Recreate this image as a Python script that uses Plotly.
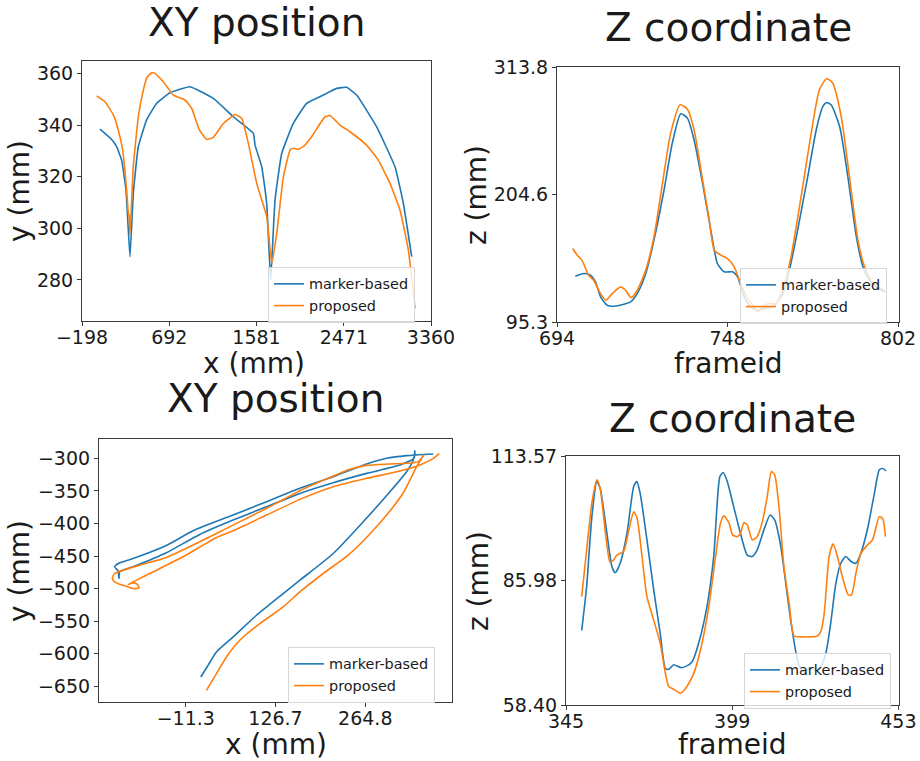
import plotly.graph_objects as go

W, H = 920, 761
BLUE = "#1f77b4"
ORANGE = "#ff7f0e"
FONT = "DejaVu Sans"

# ---------------- data: top-left XY position ----------------
tl_marker_x = [-14.5, 104.5, 155, 206, 250.6, 291, 325, 376, 461, 563, 699, 903, 1141, 1345, 1549,
               1566, 1634, 1685, 1725, 1770, 1838, 1956, 2092, 2262, 2398, 2500, 2602, 2806, 2993, 3078, 3163]
tl_marker_y = [338.4, 334.4, 331.6, 326.4, 314.8, 289, 313.5, 331.6, 342, 348.4, 352.5, 354.8, 350.3, 343.2, 336.8,
               332.2, 323.9, 309.7, 280, 311, 329, 340.6, 348.4, 351.6, 354.2, 354.6, 351.6, 339.3, 323.8, 309.7, 289]
tl_prop_x = [-48.5, 36.5, 121.5, 172.5, 216.6, 257, 274.5, 282, 291, 325, 376, 427, 468, 512, 546, 631, 733, 852,
             920, 995, 1073, 1141, 1243, 1362, 1430, 1498, 1583, 1685, 1736, 1787, 1855, 1923, 1956, 2007, 2058,
             2143, 2279, 2330, 2432, 2534, 2704, 2823, 2942, 3044, 3129, 3197]
tl_prop_y = [351.3, 349, 343.9, 338, 330.3, 314.8, 305.8, 305, 297.4, 323.9, 343.2, 353.5, 358.7, 360.2, 360, 356.8,
             351.6, 349.7, 346.5, 338.4, 334.4, 335.2, 340.6, 344.1, 342.6, 332.9, 317.4, 304.5, 286.4, 298, 320,
             330.3, 331, 330.6, 331.6, 335.5, 343.2, 343.7, 340, 337.4, 332.2, 326.4, 317.4, 307.1, 291.6, 269]
tl_xticks = [-198, 692, 1581, 2471, 3360]
tl_xticktext = ["\u2212198", "692", "1581", "2471", "3360"]
tl_yticks = [280, 300, 320, 340, 360]

# ---------------- data: top-right Z coordinate ----------------
tr_marker_f = [699.8, 702.5, 704.6, 706.2, 707.8, 709.9, 712, 715.2, 717.3, 719.4, 722.1, 724.7, 727.9, 730.5,
               733.2, 735.3, 737.4, 740.1, 742.7, 744.8, 746.9, 749.6, 751.2, 753.3, 755.4, 757.5, 759.6, 762.8,
               765.5, 767.6, 770.2, 773.4, 776.1, 778.2, 779.4, 780.8, 783.5, 786.1, 788.8, 790.9, 793, 795.1, 797.8]
tr_marker_z = [134.5, 136.8, 135.4, 129.7, 116.8, 109.6, 108.8, 110.5, 112.5, 119.6, 136.8, 165.5, 208.4, 248.5,
               273.7, 270, 251.4, 214.1, 174.1, 145.4, 138.3, 138.3, 133.9, 116.8, 108.2, 105.3, 106.7, 109.6,
               119.6, 139.7, 174.1, 219.9, 260, 280, 283.4, 281.4, 262.8, 219.9, 168.3, 142.6, 131.1, 125.4, 121]
tr_prop_f = [699, 700.4, 701.9, 704, 705.6, 707.8, 709.4, 711.5, 714.1, 715.7, 717.5, 719.4, 722.1, 724.7, 727.4,
             730, 733, 735.3, 737.4, 740.1, 742.2, 743.8, 745.9, 748, 750.1, 752.2, 754.4, 756.5, 757.5, 759.1,
             760.7, 763.4, 765.5, 768.1, 771.3, 774.5, 777.1, 779.4, 781.3, 784, 786.6, 789.3, 791.4, 793.5,
             795.6, 797.8]
tr_prop_z = [158.3, 152.6, 148.3, 135.4, 131.1, 119.6, 113.9, 119.6, 125.4, 122.5, 116.2, 122.5, 139.7, 168.3,
             214.1, 257.1, 281.4, 277.7, 260, 217, 182.6, 156.9, 152.6, 149.7, 142.6, 128.2, 115.3, 108.2, 103.9,
             108.2, 111, 111, 123.9, 151.1, 202.7, 257.1, 294.3, 303.8, 300.1, 271.4, 219.9, 165.5, 142.6, 131.1,
             125.4, 122.5]
tr_xticks = [694, 748, 802]
tr_yticks = [95.3, 204.6, 313.8]
tr_yticktext = ["95.3", "204.6", "313.8"]

# ---------------- data: bottom-left XY position ----------------
bl_marker_x = [11.8, 23.1, 35.9, 61.5, 97.5, 138.5, 164.2, 215.5, 261.6, 302.7, 328.3, 338.6, 341.1, 339.6,
               318.1, 266.8, 215.5, 164.2, 112.9, 61.5, 10.2, -41.1, -92.4, -112.9, -113.9, -115.4, -120.6,
               -112.9, -92.4, -41.1, 0.0, 61.5, 112.9, 164.2, 215.5, 266.8, 297.5, 328.3, 369.4]
bl_marker_y = [-635.7, -617.7, -597.2, -574.2, -540.9, -507.6, -487.1, -446.1, -397.4, -351.2, -320.5, -302.6,
               -288.2, -300, -310.2, -323.1, -337.4, -353.8, -374.3, -394.8, -416.8, -445.0, -466.6, -474.2,
               -484.5, -472.7, -466.6, -460.4, -453.8, -433.8, -411.2, -387.1, -366.6, -346.1, -328.2, -308.7,
               -300, -295.9, -293.3]
bl_prop_x = [20.5, 35.9, 51.3, 71.8, 102.6, 138.5, 164.2, 200.1, 238.5, 266.8, 287.3, 307.8, 323.2, 336.0,
             343.7, 351.4, 355.0, 346.3, 338.6, 266.8, 241.1, 215.5, 164.2, 112.9, 61.5, 10.2, -41.1, -82.1,
             -120.6, -124.2, -120.6, -112.9, -102.6, -92.4, -83.1, -86.2, -93.4, -100.0, -66.7, -15.4, 35.9,
             61.5, 112.9, 164.2, 215.5, 266.8, 318.1, 348.8, 369.4, 378.6]
bl_prop_y = [-656.2, -630.6, -604.9, -579.3, -553.7, -528.1, -505.0, -476.8, -448.6, -421.5, -398.9, -374.3,
             -352.8, -328.2, -312.8, -300.0, -294.9, -305.1, -306.7, -310.8, -316.9, -327.2, -349.7, -376.9,
             -402.5, -428.1, -452.2, -464.0, -476.8, -484.5, -489.6, -493.2, -496.3, -499.9, -498.9, -493.2,
             -491.2, -493.7, -476.8, -451.2, -421.5, -411.2, -387.1, -363.0, -343.6, -330.8, -319.5, -310.2,
             -300.0, -292.3]
bl_xticks = [-11.3, 126.7, 264.8]
bl_xticktext = ["\u221211.3", "126.7", "264.8"]
bl_yticks = [-650, -600, -550, -500, -450, -400, -350, -300]
bl_yticktext = ["\u2212650", "\u2212600", "\u2212550", "\u2212500", "\u2212450", "\u2212400", "\u2212350", "\u2212300"]

# ---------------- data: bottom-right Z coordinate ----------------
br_marker_f = [350.1, 351.7, 353.4, 355, 356.1, 358.3, 359.9, 361, 362.6, 364.8, 367, 368, 369.1, 371.3, 373.5,
               375.6, 377.3, 378.4, 380, 382.2, 383.8, 386, 388.1, 390.8, 393, 395, 396.1, 397.4, 399.5, 401.7,
               403.9, 405.5, 407.1, 409.3, 411.3, 412.8, 414.8, 416.4, 418, 420.2, 421.8, 424.5, 427.2, 429.4,
               431, 432.7, 434.3, 435.9, 437.6, 439.2, 440.8, 443, 445.2, 446.8, 447.9, 449]
br_marker_z = [74.9, 84.6, 100.1, 107.9, 106.4, 96.4, 89.1, 87.7, 89.8, 96.4, 106.8, 107.9, 105.3, 95, 83.9,
               74.3, 66.5, 66.3, 67.3, 66.7, 66.9, 68, 72.1, 80.2, 91.3, 109, 109.9, 107.9, 102.3, 96.4, 91.6,
               91.3, 92.7, 97.2, 100.5, 99.4, 93.5, 85.4, 77.2, 68.4, 65.8, 66.5, 66.3, 69.8, 76.5, 85.4, 89.8,
               91.3, 90.2, 89.8, 92, 97.5, 105.3, 110.5, 110.8, 110.3]
br_prop_f = [350.1, 351.7, 353.4, 355, 356.1, 357.7, 359.3, 360.4, 361.5, 363.7, 365.3, 367, 368.1, 369.7,
             371.3, 373.5, 375.6, 377.3, 378.4, 380, 382.2, 384.3, 386.5, 388.7, 391.4, 393.6, 395.2, 396.3,
             398, 399.1, 400.6, 401.7, 402.8, 403.9, 405.5, 407.1, 408.8, 410.4, 411.7, 412.8, 414.2, 415.8,
             417.5, 419.1, 421.3, 424.5, 426.7, 427.8, 428.9, 430.5, 431.8, 433.2, 434.8, 436.7, 437.8, 439.2,
             440.8, 443, 444.6, 446.8, 447.9, 448.8]
br_prop_z = [82.4, 92.7, 103.1, 108.3, 106.4, 97.2, 90.1, 90.5, 91.6, 92.4, 96.8, 101.2, 99.8, 91.3, 82.4,
             77.2, 72.1, 65.4, 62.5, 61.9, 61, 62.5, 65.4, 70.6, 80.2, 91.3, 98.7, 100.3, 98.7, 96.1, 95.7,
             96.4, 98.8, 98.3, 95, 95.7, 99, 104.6, 110.1, 109.4, 102.3, 89.1, 80.9, 73.7, 73.5, 73.5, 73.7,
             74.7, 78.7, 91.3, 94.1, 91.3, 86.8, 82.8, 82.8, 87.6, 92, 93.9, 95, 100.1, 99.7, 95.7]
br_xticks = [345, 399, 453]
br_yticks = [58.40, 85.98, 113.57]
br_yticktext = ["58.40", "85.98", "113.57"]

series_names = ["marker-based", "proposed"]
titles = ["XY position", "Z coordinate", "XY position", "Z coordinate"]
xlabels = ["x (mm)", "frameid", "x (mm)", "frameid"]
ylabels = ["y (mm)", "z (mm)", "y (mm)", "z (mm)"]


def fx(px):
    return px / W


def fy(py):
    return 1 - py / H


fig = go.Figure()

panels = [
    (tl_marker_x, tl_marker_y, tl_prop_x, tl_prop_y, 0.35),
    (tr_marker_f, tr_marker_z, tr_prop_f, tr_prop_z, 0.6),
    (bl_marker_x, bl_marker_y, bl_prop_x, bl_prop_y, 0.6),
    (br_marker_f, br_marker_z, br_prop_f, br_prop_z, 0.6),
]
for i, (mx, my, px_, py_, sm) in enumerate(panels):
    k = "" if i == 0 else str(i + 1)
    leg = "legend" + k
    for xs, ys, col, nm in [(mx, my, BLUE, series_names[0]), (px_, py_, ORANGE, series_names[1])]:
        fig.add_trace(go.Scatter(
            x=xs, y=ys, mode="lines", name=nm, legend=leg,
            line=dict(color=col, width=1.6, shape="spline", smoothing=sm),
            xaxis="x" + k, yaxis="y" + k, showlegend=True,
        ))

# plot boxes in pixels (left, top, right, bottom)
boxes = [(82, 61, 431, 321), (557, 67, 899, 322), (99, 439, 452, 702), (566, 456, 899, 705)]
xranges = [[-198, 3360], [694, 802.3], [-144.7, 398.1], [345, 453.2]]
yranges = [[264.1, 364.8], [95.3, 313.8], [-674.1, -270.3], [58.40, 113.57]]
xtick_sets = [(tl_xticks, tl_xticktext), (tr_xticks, [str(v) for v in tr_xticks]),
              (bl_xticks, bl_xticktext), (br_xticks, [str(v) for v in br_xticks])]
ytick_sets = [(tl_yticks, [str(v) for v in tl_yticks]), (tr_yticks, tr_yticktext),
              (bl_yticks, bl_yticktext), (br_yticks, br_yticktext)]

axis_common = dict(showline=True, mirror=True, linecolor="#3a3a3a", linewidth=1.1,
                   ticks="outside", ticklen=4, tickwidth=1.1, tickcolor="#3a3a3a",
                   showgrid=False, zeroline=False, automargin=False,
                   tickfont=dict(family=FONT, size=19, color="#1a1a1a"))

layout = dict(width=W, height=H, margin=dict(l=0, r=0, t=0, b=0, autoexpand=False),
              paper_bgcolor="white", plot_bgcolor="white",
              font=dict(family=FONT, color="#1a1a1a"))
for i, (l, t, r, b) in enumerate(boxes):
    k = "" if i == 0 else str(i + 1)
    layout["xaxis" + k] = dict(domain=[fx(l), fx(r)], anchor="y" + k, range=xranges[i],
                               tickmode="array", tickvals=xtick_sets[i][0], ticktext=xtick_sets[i][1],
                               ticklabelstandoff=-5, **axis_common)
    layout["yaxis" + k] = dict(domain=[fy(b), fy(t)], anchor="x" + k, range=yranges[i],
                               tickmode="array", tickvals=ytick_sets[i][0], ticktext=ytick_sets[i][1],
                               **axis_common)

legend_pos = [(268, 267), (740, 268), (288, 647), (744, 653)]
for i, (lx, ly) in enumerate(legend_pos):
    k = "" if i == 0 else str(i + 1)
    layout["legend" + k] = dict(x=fx(lx), y=fy(ly), xanchor="left", yanchor="top",
                                xref="paper", yref="paper",
                                bgcolor="rgba(255,255,255,0.8)", bordercolor="#d6d6d6", borderwidth=1,
                                font=dict(family=FONT, size=14.4, color="#1a1a1a"),
                                itemwidth=30, tracegroupgap=0)

fig.update_layout(**layout)

# titles and axis labels as annotations
title_pos = [(256, 22), (728, 28), (275, 398), (732, 418)]
xlabel_pos = [(254, 364), (728, 364), (276, 744), (732, 744)]
ylabel_pos = [(19, 191), (477, 195), (19, 571), (478, 581)]
anns = []
for i in range(4):
    anns.append(dict(text=titles[i], x=fx(title_pos[i][0]), y=fy(title_pos[i][1]), xref="paper", yref="paper",
                     showarrow=False, xanchor="center", yanchor="middle",
                     font=dict(family=FONT, size=39, color="#1a1a1a")))
    anns.append(dict(text=xlabels[i], x=fx(xlabel_pos[i][0]), y=fy(xlabel_pos[i][1]), xref="paper", yref="paper",
                     showarrow=False, xanchor="center", yanchor="middle",
                     font=dict(family=FONT, size=28, color="#1a1a1a")))
    anns.append(dict(text=ylabels[i], x=fx(ylabel_pos[i][0]), y=fy(ylabel_pos[i][1]), xref="paper", yref="paper",
                     showarrow=False, xanchor="center", yanchor="middle", textangle=-90,
                     font=dict(family=FONT, size=28, color="#1a1a1a")))
fig.update_layout(annotations=anns)

fig.write_html("out.html")
